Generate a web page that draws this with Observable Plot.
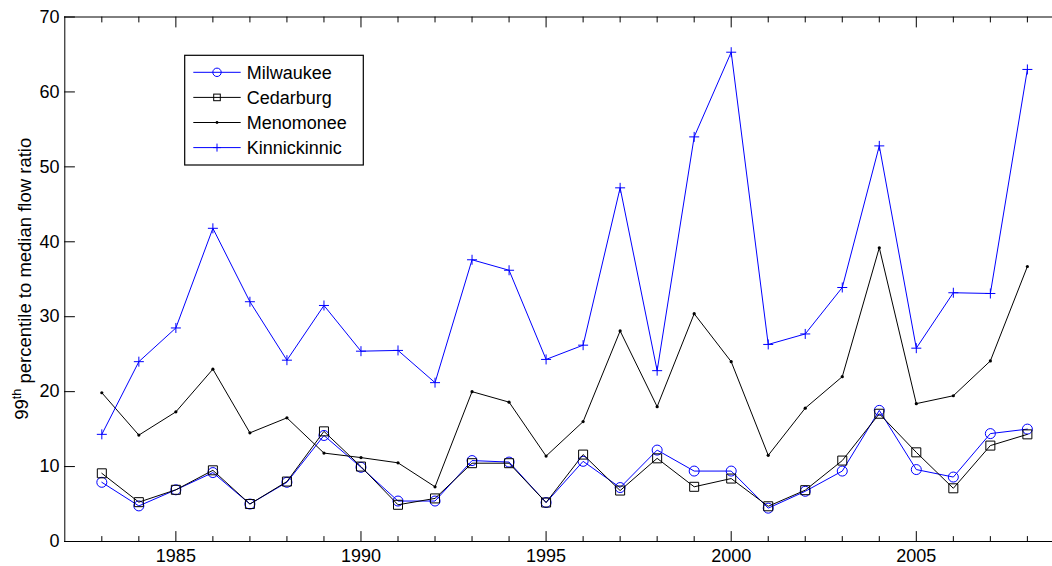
<!DOCTYPE html>
<html>
<head>
<meta charset="utf-8">
<script src="https://cdn.jsdelivr.net/npm/d3@7"></script>
<script src="https://cdn.jsdelivr.net/npm/@observablehq/plot@0.6"></script>
<style>
  html, body { margin: 0; padding: 0; background: #fff; overflow: hidden; }
</style>
</head>
<body>
<div id="chart"></div>
<script>
// Yearly ratio of the 99th-percentile flow to the median flow, four gauges
const years = [1983, 1984, 1985, 1986, 1987, 1988, 1989, 1990, 1991, 1992, 1993, 1994, 1995,
               1996, 1997, 1998, 1999, 2000, 2001, 2002, 2003, 2004, 2005, 2006, 2007, 2008];
const milwaukee    = [7.9, 4.75, 6.9, 9.2, 5.0, 7.9, 14.15, 9.9, 5.4, 5.4, 10.8, 10.6, 5.2,
                      10.7, 7.2, 12.2, 9.4, 9.4, 4.45, 6.7, 9.4, 17.5, 9.6, 8.6, 14.4, 15.0];
const cedarburg    = [9.1, 5.25, 6.9, 9.5, 5.0, 8.0, 14.7, 10.0, 4.9, 5.75, 10.45, 10.45, 5.2,
                      11.6, 6.8, 11.1, 7.3, 8.4, 4.7, 6.85, 10.8, 17.05, 11.9, 7.1, 12.8, 14.3];
const menomonee    = [19.85, 14.2, 17.3, 23.0, 14.5, 16.5, 11.8, 11.2, 10.5, 7.3, 20.0, 18.6, 11.4,
                      16.0, 28.1, 18.0, 30.4, 24.0, 11.5, 17.8, 22.0, 39.2, 18.4, 19.45, 24.1, 36.7];
const kinnickinnic = [14.3, 24.0, 28.5, 41.8, 32.0, 24.2, 31.5, 25.4, 25.5, 21.2, 37.6, 36.2, 24.3,
                      26.2, 47.2, 22.8, 54.0, 65.3, 26.3, 27.7, 33.9, 52.8, 25.8, 33.2, 33.1, 63.0];

const seriesNames = ["Milwaukee", "Cedarburg", "Menomonee", "Kinnickinnic"];
const xMajorTicks = [1985, 1990, 1995, 2000, 2005];
const xMinorTicks = [1983, 1984, 1986, 1987, 1988, 1989, 1991, 1992, 1993, 1994, 1996, 1997,
                     1998, 1999, 2001, 2002, 2003, 2004, 2006, 2007, 2008];
const yTicks = [0, 10, 20, 30, 40, 50, 60, 70];

const BLUE = "#0000ff";
const FONT = "Liberation Sans, Arial, Helvetica, sans-serif";

// Outline symbols (size is π r², so r is recovered from it)
const plusSymbol = {
  draw(ctx, size) {
    const r = Math.sqrt(size / Math.PI);
    ctx.moveTo(-r, 0); ctx.lineTo(r, 0);
    ctx.moveTo(0, -r); ctx.lineTo(0, r);
  }
};
const squareSymbol = {
  draw(ctx, size) {
    const r = Math.sqrt(size / Math.PI);
    ctx.rect(-r, -r, 2 * r, 2 * r);
  }
};
const circleSymbol = {
  draw(ctx, size) {
    const r = Math.sqrt(size / Math.PI);
    ctx.moveTo(r, 0);
    ctx.arc(0, 0, r, 0, 2 * Math.PI);
  }
};
// Straight tick stroke for the vector mark
const tickShape = {
  draw(ctx, l) { ctx.moveTo(0, 0); ctx.lineTo(0, -l); }
};

const toRows = (values) => years.map((year, i) => ({year, value: values[i]}));
const rowsMil = toRows(milwaukee);
const rowsCed = toRows(cedarburg);
const rowsMen = toRows(menomonee);
const rowsKin = toRows(kinnickinnic);

const W = 1052, H = 566;

const chart = Plot.plot({
  width: W,
  height: H,
  marginLeft: 64,
  marginRight: 0,
  marginTop: 16.5,
  marginBottom: 25,
  style: {fontFamily: FONT, fontSize: "18px", background: "#fff", color: "#000"},
  x: {domain: [1982, 2009], range: [64.3, 1063.9], label: null},
  y: {domain: [0, 70], label: null},
  marks: [
    // axes box (top, bottom, left)
    Plot.ruleY([0, 70], {stroke: "#000", strokeWidth: 1}),
    Plot.ruleX([1982], {stroke: "#000", strokeWidth: 1}),

    // inward ticks
    Plot.vector(xMajorTicks, {x: d => d, frameAnchor: "bottom", length: 10, rotate: 0, anchor: "start", shape: tickShape, stroke: "#000", strokeWidth: 1}),
    Plot.vector(xMinorTicks, {x: d => d, frameAnchor: "bottom", length: 5, rotate: 0, anchor: "start", shape: tickShape, stroke: "#000", strokeWidth: 1}),
    Plot.vector(xMajorTicks, {x: d => d, frameAnchor: "top", length: 10, rotate: 180, anchor: "start", shape: tickShape, stroke: "#000", strokeWidth: 1}),
    Plot.vector(xMinorTicks, {x: d => d, frameAnchor: "top", length: 5, rotate: 180, anchor: "start", shape: tickShape, stroke: "#000", strokeWidth: 1}),
    Plot.vector(yTicks, {y: d => d, frameAnchor: "left", length: 10, rotate: 90, anchor: "start", shape: tickShape, stroke: "#000", strokeWidth: 1}),

    Plot.axisX(xMajorTicks, {anchor: "bottom", tickSize: 0, tickPadding: 8, tickFormat: d => String(d), fontSize: 18}),
    Plot.axisY(yTicks, {anchor: "left", tickSize: 0, tickPadding: 5, fontSize: 18}),

    // Milwaukee
    Plot.line(rowsMil, {x: "year", y: "value", stroke: BLUE, strokeWidth: 1}),
    Plot.dot(rowsMil, {x: "year", y: "value", symbol: circleSymbol, r: 5, stroke: BLUE, fill: "none", strokeWidth: 1}),
    // Cedarburg
    Plot.line(rowsCed, {x: "year", y: "value", stroke: "#000", strokeWidth: 1}),
    Plot.dot(rowsCed, {x: "year", y: "value", symbol: squareSymbol, r: 4.5, stroke: "#000", fill: "none", strokeWidth: 1}),
    // Menomonee
    Plot.line(rowsMen, {x: "year", y: "value", stroke: "#000", strokeWidth: 1}),
    Plot.dot(rowsMen, {x: "year", y: "value", r: 1.6, fill: "#000", stroke: "none"}),
    // Kinnickinnic
    Plot.line(rowsKin, {x: "year", y: "value", stroke: BLUE, strokeWidth: 1}),
    Plot.dot(rowsKin, {x: "year", y: "value", symbol: plusSymbol, r: 5, stroke: BLUE, fill: "none", strokeWidth: 1})
  ]
});

document.getElementById("chart").appendChild(chart);

const svg = d3.select(chart);
const yScale = chart.scale("y");
const yMid = (yScale.apply(0) + yScale.apply(70)) / 2;

// y axis title with superscript ordinal
const ylab = svg.append("text")
  .attr("transform", `translate(27.5,${yMid}) rotate(-90)`)
  .attr("text-anchor", "middle")
  .attr("font-family", FONT)
  .attr("font-size", 18.5)
  .attr("fill", "#000");
ylab.append("tspan").text("99");
ylab.append("tspan").attr("font-size", 12.5).attr("dy", "-0.55em").text("th");
ylab.append("tspan").attr("dy", "0.55em").text(" percentile to median flow ratio");

// legend
const lg = svg.append("g")
  .attr("font-family", FONT)
  .attr("font-size", 18)
  .attr("text-anchor", "start");
lg.append("rect")
  .attr("x", 184.7).attr("y", 55.3).attr("width", 178.6).attr("height", 109.7)
  .attr("fill", "#fff").attr("stroke", "#000").attr("stroke-width", 1.2);

const legendStyles = [
  {color: BLUE, marker: "circle"},
  {color: "#000", marker: "square"},
  {color: "#000", marker: "dot"},
  {color: BLUE, marker: "plus"}
];
seriesNames.forEach((name, i) => {
  const cy = 72.3 + i * 25.1;
  const st = legendStyles[i];
  lg.append("line")
    .attr("x1", 193.3).attr("x2", 240.7).attr("y1", cy).attr("y2", cy)
    .attr("stroke", st.color).attr("stroke-width", 1);
  const mx = 217;
  if (st.marker === "circle") {
    lg.append("circle").attr("cx", mx).attr("cy", cy).attr("r", 4.2)
      .attr("fill", "none").attr("stroke", st.color);
  } else if (st.marker === "square") {
    lg.append("rect").attr("x", mx - 3.3).attr("y", cy - 3.3).attr("width", 6.6).attr("height", 6.6)
      .attr("fill", "none").attr("stroke", st.color);
  } else if (st.marker === "dot") {
    lg.append("circle").attr("cx", mx).attr("cy", cy).attr("r", 1.4).attr("fill", st.color);
  } else {
    lg.append("path").attr("d", `M${mx - 4},${cy}H${mx + 4}M${mx},${cy - 4}V${cy + 4}`)
      .attr("stroke", st.color).attr("fill", "none");
  }
  lg.append("text")
    .attr("x", 246.7).attr("y", cy).attr("dy", "0.35em")
    .attr("text-anchor", "start")
    .attr("fill", "#000")
    .text(name);
});
</script>
</body>
</html>
